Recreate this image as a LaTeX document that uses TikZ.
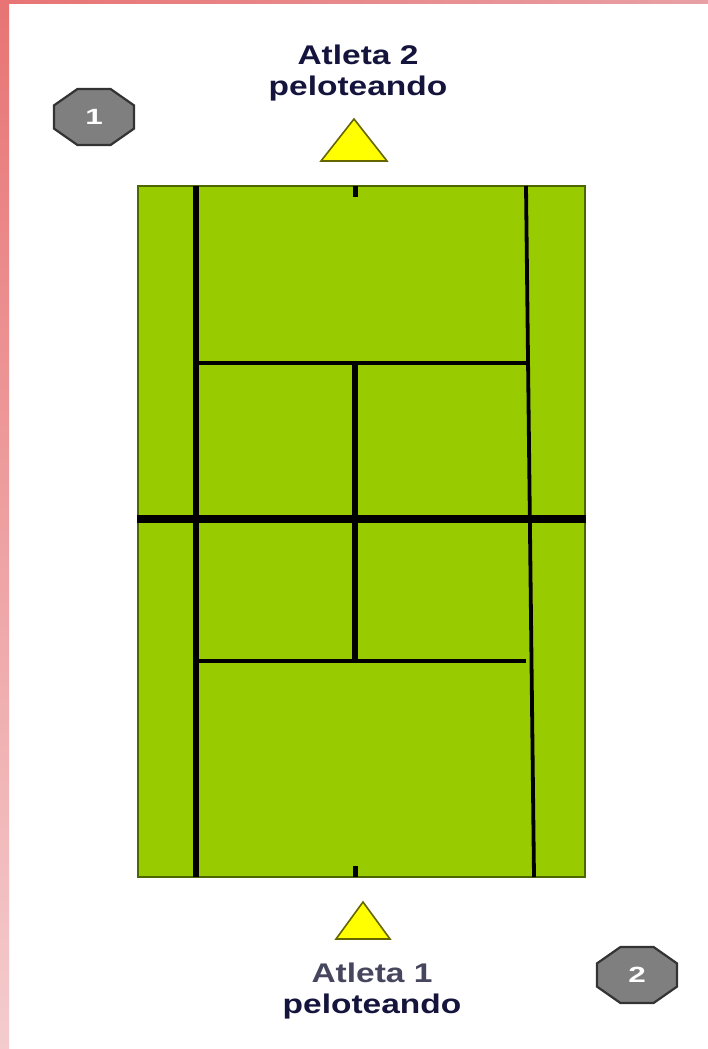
\documentclass[tikz,border=0pt]{standalone}
\usepackage{fontspec}
\setmainfont{Liberation Sans}
\usepackage{xcolor}
\usetikzlibrary{shapes.geometric}
\definecolor{courtgreen}{HTML}{99CC00}
\definecolor{plyellow}{HTML}{FFFF00}
\definecolor{badgegray}{HTML}{7F7F7F}
\definecolor{lblnavy}{HTML}{14143C}
\definecolor{lblslate}{HTML}{46465E}
\definecolor{edgetop}{HTML}{E87474}
\definecolor{edgemid}{HTML}{EA959A}
\definecolor{edgelow}{HTML}{F4CCCE}
\definecolor{edgeright}{HTML}{E8A0A4}
\tikzset{
  court/.style ={rectangle, draw=black!50!courtgreen, line width=1.2pt, fill=courtgreen,
                 minimum width=447pt, minimum height=691pt, inner sep=0pt},
  heavy/.style ={draw=black, line width=5.2pt},
  mid/.style   ={draw=black, line width=3.8pt},
  netl/.style  ={draw=black, line width=7.5pt},
  player/.style={draw=black!60!plyellow, line width=1.6pt, fill=plyellow, line join=miter},
  badge/.style ={regular polygon, regular polygon sides=8, draw=black!80, line width=2.2pt,
                 fill=badgegray, minimum size=60.6pt, inner sep=0pt, text=white,
                 font=\fontsize{22}{24}\selectfont\bfseries,
                 xscale=1.43, transform shape},
  lbl/.style   ={font=\fontsize{27}{31}\selectfont\bfseries, text=lblnavy, align=center,
                 inner sep=0pt, xscale=1.24, transform shape},
}

\begin{document}
\begin{tikzpicture}[x=1pt,y=-1pt]
\useasboundingbox (0,0) rectangle (708,1049);
% ---- slide edge ------------------------------------------------------
\fill[white] (0,0) rectangle (708,1049);
\shade[left color=edgetop, right color=edgeright] (0,0) rectangle (708,4);
\shade[top color=edgetop, middle color=edgemid, bottom color=edgelow] (0,0) rectangle (9,1049);

% ---- court -----------------------------------------------------------
\node[court] (field) at (361.5,531.5) {};
\coordinate (lt) at (196,186);   \coordinate (lb) at (196,877);
\coordinate (rt) at (526,186);   \coordinate (rb) at (534,877);
\coordinate (sul) at (198,363);  \coordinate (sur) at (528,363);
\coordinate (sdl) at (198,661);  \coordinate (sdr) at (526,661);
\coordinate (ctop) at (355,363); \coordinate (cbot) at (355,661);

\draw[heavy] (lt) -- (lb);
\draw[mid]   (rt) -- (rb);
\draw[mid]   (sul) -- (sur);
\draw[mid]   (sdl) -- (sdr);
\draw[heavy] (ctop) -- (cbot);
\draw[netl]  (field.west |- 0,519) -- (field.east |- 0,519);
% base line marks
\draw[heavy] (355.5,186) -- (355.5,197);
\draw[heavy] (355.5,866) -- (355.5,877);

% ---- players and labels ----------------------------------------------
\draw[player] (354,119) -- (387,161) -- (321,161) -- cycle;
\draw[player] (363,902) -- (390,939) -- (336,939) -- cycle;
\node[lbl] (atl2) at (358,73.5) {Atleta 2\\peloteando};
\node[lbl] (atl1) at (372,991.5) {\textcolor{lblslate}{Atleta 1}\\peloteando};

\node[badge] (b1) at (94,117) {1\hspace{5pt}};
\node[badge] (b2) at (637,975) {2\hspace{2pt}};
\end{tikzpicture}
\end{document}
